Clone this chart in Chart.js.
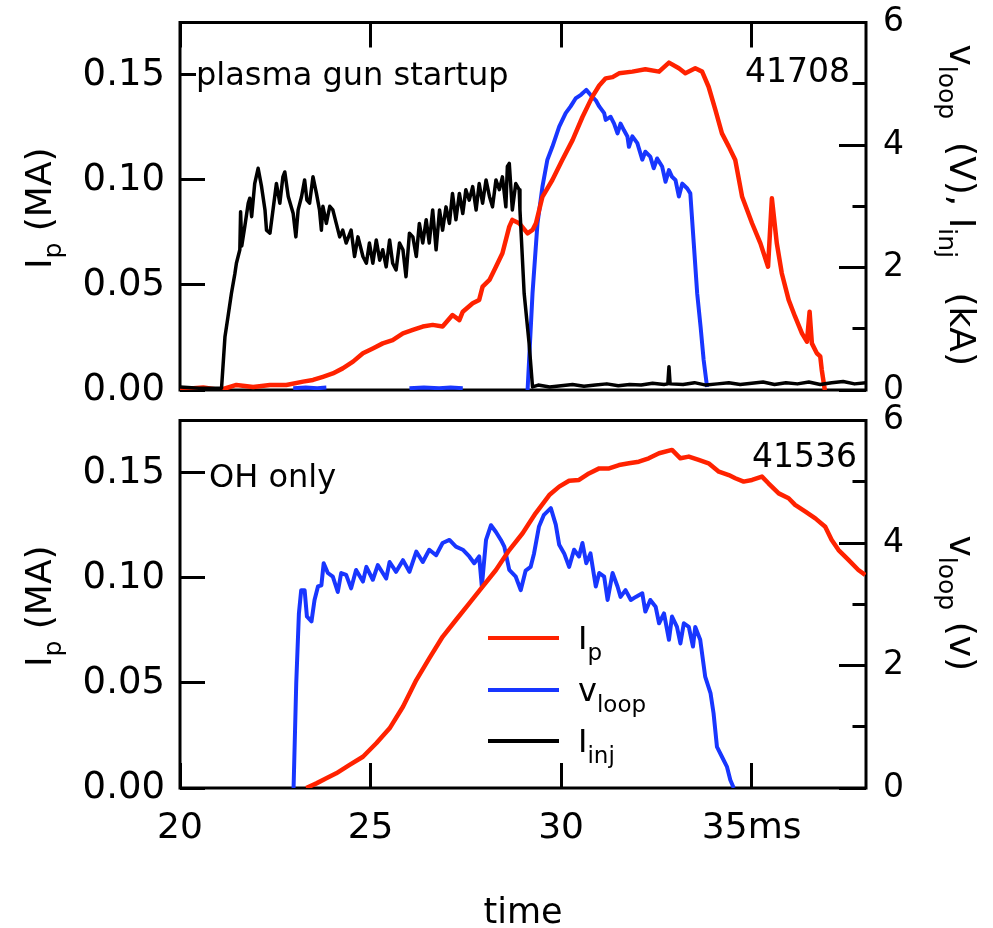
<!DOCTYPE html>
<html>
<head>
<meta charset="utf-8">
<script src="https://cdn.jsdelivr.net/npm/chart.js@4.4.1/dist/chart.umd.min.js"></script>
<style>
  html, body { margin: 0; padding: 0; background: #fff; overflow: hidden; }
  canvas { position: absolute; left: 0; }
  #c1 { top: 0; }
  #c2 { top: 400px; }
</style>
</head>
<body>
<canvas id="c1" width="993" height="410"></canvas>
<canvas id="c2" width="993" height="528"></canvas>
<script>
/* plasma gun startup vs OH only — Ip, vloop, Iinj against time (ms) */

const FONT = "'DejaVu Sans', sans-serif";
const RED = '#ff2200', BLUE = '#1836ff', BLACK = '#000000';

// axes
const X_MIN = 20, X_MAX = 38;
const X_TICKS = [20, 25, 30, 35];
const X_LABELS = ['20', '25', '30', '35ms'];
const IP_MAX = 0.175;
const IP_TICKS = [0, 0.05, 0.10, 0.15];
const V_MAX = 6;
const V_TICKS = [0, 2, 4, 6];
const V_MINOR = [1, 3, 5];

// top panel, shot 41708 : [t (ms), value]
const ipTop = [
  [20.0,0.0003],[20.61,0.0012],[21.05,0.0],[21.48,0.0024],[21.92,0.0014],[22.36,0.0024],[22.79,0.0024],
  [23.23,0.0040],[23.49,0.0048],[23.75,0.0063],[24.01,0.0079],[24.27,0.0103],[24.54,0.0135],[24.80,0.0175],
  [25.06,0.0198],[25.32,0.0222],[25.58,0.0238],[25.85,0.0270],[26.11,0.0286],[26.37,0.0302],[26.63,0.0310],
  [26.89,0.0302],[27.15,0.0357],[27.33,0.0333],[27.42,0.0373],[27.68,0.0413],[27.85,0.0429],[27.94,0.0492],
  [28.12,0.0524],[28.29,0.0587],[28.46,0.0651],[28.64,0.0778],[28.72,0.0810],[28.90,0.0794],[29.12,0.0746],
  [29.25,0.0762],[29.34,0.0794],[29.51,0.0920],[29.77,0.1000],[30.03,0.1095],[30.30,0.1190],[30.56,0.1300],
  [30.82,0.1397],[31.00,0.1450],[31.17,0.1484],[31.35,0.1490],[31.52,0.1508],[31.87,0.1516],[32.21,0.1527],
  [32.57,0.1516],[32.83,0.1559],[33.09,0.1532],[33.26,0.1508],[33.52,0.1532],[33.70,0.1516],[33.87,0.1444],
  [34.05,0.1333],[34.22,0.1222],[34.40,0.1159],[34.57,0.1095],[34.75,0.0920],[35.01,0.0794],[35.23,0.0698],
  [35.43,0.0587],[35.53,0.0913],[35.66,0.0698],[35.79,0.0556],[35.97,0.0429],[36.14,0.0349],[36.32,0.0270],
  [36.45,0.0230],[36.52,0.0373],[36.58,0.0222],[36.71,0.0175],[36.80,0.0160],[36.84,0.0095],[36.92,0.0]
];
const vloopTop = [
  [22.97,0.03],[23.3,0.04],[23.6,0.03],[23.84,0.04],[23.85,null],
  [26.02,0.03],[26.4,0.04],[26.8,0.03],[27.1,0.04],[27.42,0.03],[27.43,null],
  [29.12,0.0],[29.25,1.58],[29.38,2.72],[29.51,3.32],[29.64,3.76],[29.77,3.97],[29.95,4.30],[30.12,4.52],
  [30.25,4.63],[30.38,4.76],[30.52,4.82],[30.66,4.90],[30.77,4.82],[30.91,4.73],[31.00,4.63],[31.13,4.52],
  [31.17,4.41],[31.30,4.46],[31.39,4.35],[31.48,4.19],[31.56,4.35],[31.65,4.24],[31.74,4.14],[31.78,3.97],
  [31.87,4.14],[32.00,4.03],[32.13,3.76],[32.21,3.89],[32.34,3.81],[32.43,3.62],[32.52,3.78],[32.65,3.65],
  [32.74,3.40],[32.83,3.59],[32.91,3.48],[33.00,3.43],[33.09,3.16],[33.18,3.37],[33.31,3.29],[33.39,3.21],
  [33.48,2.40],[33.57,1.58],[33.66,1.03],[33.74,0.49],[33.83,0.05]
];
const injTop = [
  [20.0,0.05],[20.5,0.03],[21.0,0.03],[21.09,0.03],[21.18,0.87],[21.26,1.20],[21.35,1.58],[21.44,1.90],
  [21.48,2.07],[21.57,2.29],[21.59,2.91],[21.62,2.35],[21.70,2.67],[21.79,3.05],[21.83,3.13],[21.88,2.83],
  [21.96,3.37],[22.05,3.62],[22.14,3.32],[22.23,2.94],[22.27,2.61],[22.36,2.56],[22.44,2.94],[22.53,3.37],
  [22.62,3.05],[22.70,3.48],[22.75,3.56],[22.84,3.16],[22.97,2.88],[23.04,2.50],[23.10,2.94],[23.19,3.16],
  [23.27,3.43],[23.33,3.10],[23.40,3.05],[23.49,3.48],[23.58,3.21],[23.66,2.94],[23.71,2.61],[23.75,3.00],
  [23.84,2.72],[23.93,3.00],[24.01,2.94],[24.10,2.72],[24.19,2.50],[24.27,2.61],[24.36,2.40],[24.49,2.61],
  [24.58,2.18],[24.67,2.50],[24.80,2.18],[24.89,2.07],[24.97,2.40],[25.06,2.07],[25.15,2.45],[25.24,2.12],
  [25.32,2.29],[25.41,2.01],[25.50,2.45],[25.58,2.07],[25.67,1.96],[25.76,2.40],[25.85,2.29],[25.93,1.85],
  [26.02,2.56],[26.11,2.50],[26.20,2.18],[26.28,2.72],[26.37,2.40],[26.46,2.78],[26.54,2.40],[26.63,2.94],
  [26.72,2.29],[26.81,2.94],[26.89,2.61],[26.98,2.99],[27.07,2.72],[27.15,3.21],[27.24,2.78],[27.33,3.21],
  [27.42,2.88],[27.50,3.27],[27.59,3.10],[27.68,3.32],[27.77,2.94],[27.85,3.37],[27.94,3.05],[28.03,3.43],
  [28.12,3.16],[28.20,2.99],[28.29,3.43],[28.38,3.27],[28.46,3.48],[28.55,2.99],[28.59,3.65],[28.64,3.70],
  [28.72,2.94],[28.81,3.37],[28.90,3.27],[28.92,2.94],[29.03,1.58],[29.16,0.76],[29.25,0.05],[29.4,0.08],
  [29.7,0.05],[30.0,0.07],[30.3,0.09],[30.6,0.06],[30.9,0.08],[31.2,0.10],[31.5,0.07],[31.8,0.09],[32.1,0.08],
  [32.4,0.11],[32.7,0.09],[32.80,0.10],[32.83,0.38],[32.86,0.10],[33.2,0.09],[33.5,0.12],[33.8,0.08],
  [34.1,0.10],[34.4,0.12],[34.7,0.09],[35.0,0.11],[35.3,0.13],[35.6,0.09],[35.9,0.12],[36.2,0.10],[36.5,0.13],
  [36.8,0.09],[37.1,0.12],[37.4,0.14],[37.7,0.10],[38.0,0.12]
];

// bottom panel, shot 41536
const ipBot = [
  [23.31,0.0],[23.58,0.0022],[23.84,0.0046],[24.10,0.0070],[24.45,0.0110],[24.80,0.0149],[25.15,0.0213],
  [25.50,0.0284],[25.85,0.0387],[26.20,0.0514],[26.54,0.0617],[26.89,0.0720],[27.24,0.0800],[27.59,0.0879],
  [27.94,0.0959],[28.29,0.1038],[28.64,0.1133],[28.99,0.1213],[29.33,0.1308],[29.69,0.1395],[29.95,0.1435],
  [30.21,0.1463],[30.47,0.1467],[30.73,0.1498],[31.00,0.1522],[31.26,0.1522],[31.52,0.1538],[31.78,0.1546],
  [32.04,0.1554],[32.30,0.1570],[32.57,0.1594],[32.91,0.1610],[33.13,0.1570],[33.35,0.1578],[33.61,0.1562],
  [33.87,0.1546],[34.14,0.1506],[34.40,0.1490],[34.57,0.1475],[34.79,0.1459],[35.01,0.1467],[35.27,0.1483],
  [35.44,0.1451],[35.71,0.1403],[35.97,0.1380],[36.14,0.1348],[36.41,0.1316],[36.67,0.1284],[36.93,0.1244],
  [37.10,0.1181],[37.28,0.1133],[37.54,0.1086],[37.80,0.1038],[37.98,0.1014]
];
const vloopBot = [
  [22.98,0.0],[23.05,1.71],[23.12,2.85],[23.18,3.23],[23.27,3.23],[23.33,2.80],[23.45,2.72],[23.53,3.07],
  [23.62,3.29],[23.71,3.31],[23.77,3.67],[23.88,3.51],[24.01,3.45],[24.14,3.20],[24.23,3.51],[24.36,3.48],
  [24.49,3.26],[24.62,3.56],[24.80,3.37],[24.89,3.61],[25.06,3.40],[25.19,3.64],[25.41,3.42],[25.50,3.69],
  [25.67,3.53],[25.85,3.72],[26.02,3.53],[26.20,3.86],[26.37,3.69],[26.54,3.89],[26.72,3.80],[26.89,4.00],
  [27.07,4.05],[27.24,3.94],[27.42,3.89],[27.59,3.78],[27.72,3.67],[27.85,3.78],[27.92,3.29],[28.03,4.05],
  [28.16,4.29],[28.29,4.18],[28.42,4.05],[28.51,3.94],[28.64,3.56],[28.81,3.45],[28.94,3.23],[29.07,3.55],
  [29.20,3.61],[29.29,3.83],[29.42,4.27],[29.55,4.46],[29.73,4.57],[29.86,4.30],[29.95,3.97],[30.08,3.83],
  [30.21,3.61],[30.34,3.89],[30.47,3.78],[30.56,4.00],[30.66,3.67],[30.77,3.83],[30.91,3.29],[31.00,3.51],
  [31.13,3.45],[31.22,3.07],[31.35,3.51],[31.48,3.29],[31.56,3.12],[31.69,3.23],[31.83,3.07],[31.96,3.12],
  [32.13,3.18],[32.21,2.88],[32.34,3.07],[32.48,2.96],[32.57,2.69],[32.70,2.85],[32.83,2.42],[32.91,2.80],
  [33.04,2.63],[33.13,2.36],[33.22,2.69],[33.35,2.63],[33.46,2.31],[33.52,2.63],[33.65,2.42],[33.78,1.82],
  [33.92,1.55],[34.00,1.22],[34.09,0.67],[34.22,0.51],[34.35,0.35],[34.44,0.13],[34.53,0.0]
];

const LEGEND = [
  { name: 'I', sub: 'p', color: RED },
  { name: 'v', sub: 'loop', color: BLUE },
  { name: 'I', sub: 'inj', color: BLACK }
];

const pts = a => a.map(([x, y]) => ({ x, y }));
const fixTicks = vals => s => { s.ticks = vals.map(value => ({ value })); };
const noPad = s => { s.paddingTop = 0; s.paddingBottom = 0; s.paddingLeft = 0; s.paddingRight = 0; };

// text with subscripts: runs = [[text, isSub], ...]
function drawRich(ctx, runs, x, y, o) {
  ctx.save();
  ctx.translate(x, y);
  if (o.rot) ctx.rotate(o.rot);
  let w = 0;
  for (const [t, sub] of runs) { ctx.font = (sub ? o.small : o.big) + 'px ' + FONT; w += ctx.measureText(t).width; }
  let cx = o.align === 'center' ? -w / 2 : o.align === 'right' ? -w : 0;
  ctx.textAlign = 'left'; ctx.textBaseline = 'alphabetic'; ctx.fillStyle = o.color || '#000';
  for (const [t, sub] of runs) {
    ctx.font = (sub ? o.small : o.big) + 'px ' + FONT;
    ctx.fillText(t, cx, sub ? o.drop : 0);
    cx += ctx.measureText(t).width;
  }
  ctx.restore();
}

function plainText(ctx, txt, x, y, size, align, bg) {
  ctx.save();
  ctx.font = size + 'px ' + FONT;
  ctx.textAlign = align; ctx.textBaseline = 'alphabetic';
  if (bg) {
    const w = ctx.measureText(txt).width;
    ctx.fillStyle = '#fff';
    ctx.fillRect(align === 'right' ? x - w : x, y - size * 0.78, w, size * 1.0);
  }
  ctx.fillStyle = '#000';
  ctx.fillText(txt, x, y);
  ctx.restore();
}

function scalesFor(bottom) {
  return {
    x: {
      type: 'linear', position: bottom ? 'bottom' : 'top', min: X_MIN, max: X_MAX,
      afterBuildTicks: fixTicks(X_TICKS),
      afterFit: s => { s.height = bottom ? 140 : 22.5; noPad(s); },
      border: { display: false },
      grid: { drawOnChartArea: false, drawTicks: true, tickLength: -25, tickWidth: 3, tickColor: '#000' },
      ticks: { display: bottom, autoSkip: false, maxRotation: 0, padding: 44.4, color: '#000',
        font: { family: FONT, size: 36 }, callback: (v, i) => X_LABELS[i] }
    },
    ip: {
      type: 'linear', position: 'left', min: 0, max: IP_MAX,
      afterBuildTicks: fixTicks(IP_TICKS),
      afterFit: s => { s.width = 180; noPad(s); },
      border: { display: false },
      grid: { drawOnChartArea: false, tickLength: -25, tickWidth: 3, tickColor: '#000' },
      ticks: { padding: 40, color: '#000', font: { family: FONT, size: 37 }, callback: v => v.toFixed(2) }
    },
    vminor: {
      type: 'linear', position: 'right', weight: -1, min: 0, max: V_MAX,
      afterBuildTicks: fixTicks(V_MINOR),
      afterFit: s => { s.width = 0; noPad(s); },
      border: { display: false },
      grid: { drawOnChartArea: false, tickLength: -13.5, tickWidth: 3, tickColor: '#000' },
      ticks: { display: false }
    },
    v: {
      type: 'linear', position: 'right', weight: 0, min: 0, max: V_MAX,
      afterBuildTicks: fixTicks(V_TICKS),
      afterFit: s => { s.width = 127; noPad(s); },
      border: { display: false },
      grid: { drawOnChartArea: false, tickLength: -27, tickWidth: 3, tickColor: '#000' },
      ticks: { padding: 44, color: '#000', font: { family: FONT, size: 33 } }
    }
  };
}

const line = (data, axis, color, width, order) => ({
  data: pts(data), yAxisID: axis, borderColor: color, borderWidth: width,
  pointRadius: 0, tension: 0, borderJoinStyle: 'round', spanGaps: false, order
});

function panelPlugin(bottom) {
  return {
    id: 'panel',
    beforeDatasetsDraw(chart) {
      const a = chart.chartArea, ctx = chart.ctx;
      ctx.save();
      ctx.strokeStyle = '#000'; ctx.lineWidth = 3;
      ctx.strokeRect(a.left, a.top, a.right - a.left, a.bottom - a.top);
      ctx.restore();
    },
    afterDraw(chart) {
      const a = chart.chartArea, ctx = chart.ctx;
      const cy = (a.top + a.bottom) / 2;
      // axis titles
      drawRich(ctx, [['I', 0], ['p', 1], [' (MA)', 0]], 51, cy + 2,
        { big: 36, small: 25, drop: 10, align: 'center', rot: -Math.PI / 2 });
      if (!bottom) {
        drawRich(ctx, [['v', 0], ['loop', 1], ['  (V), ', 0], ['I', 0], ['inj', 1], ['   (kA)', 0]], 950, cy - 1,
          { big: 36, small: 25, drop: 11, align: 'center', rot: Math.PI / 2 });
        plainText(ctx, 'plasma gun startup', a.left + 16, a.top + 62.5, 32, 'left', true);
        plainText(ctx, '41708', a.right - 16, a.top + 59, 33, 'right', false);
      } else {
        drawRich(ctx, [['v', 0], ['loop', 1], [' (v)', 0]], 950, cy - 1,
          { big: 36, small: 25, drop: 11, align: 'center', rot: Math.PI / 2 });
        plainText(ctx, 'OH only', a.left + 29, a.top + 66.5, 32, 'left', true);
        plainText(ctx, '41536', a.right - 9, a.top + 46, 33, 'right', false);
        plainText(ctx, 'time', (a.left + a.right) / 2, 523, 35, 'center', false);
        // legend
        const rows = [217.5, 269.5, 320.5];
        LEGEND.forEach((it, i) => {
          const y = a.top + rows[i];
          ctx.save();
          ctx.strokeStyle = it.color; ctx.lineWidth = 4;
          ctx.beginPath(); ctx.moveTo(a.left + 308, y); ctx.lineTo(a.left + 379, y); ctx.stroke();
          ctx.restore();
          drawRich(ctx, [[it.name, 0], [it.sub, 1]], a.left + 398, y + 11,
            { big: 32, small: 23, drop: 11, align: 'left' });
        });
      }
    }
  };
}

const common = bottom => ({
  responsive: false, animation: false, devicePixelRatio: 1, events: [],
  layout: { padding: bottom ? { top: 20.5, bottom: 0, left: 0, right: 0 } : { top: 0, bottom: 20, left: 0, right: 0 } },
  plugins: { legend: { display: false }, tooltip: { enabled: false } },
  scales: scalesFor(bottom)
});

new Chart(document.getElementById('c1'), {
  type: 'line',
  data: { datasets: [
    line(injTop, 'v', BLACK, 3.5, 0),
    line(ipTop, 'ip', RED, 4.5, 1),
    line(vloopTop, 'v', BLUE, 4, 2)
  ] },
  options: common(false),
  plugins: [panelPlugin(false)]
});

new Chart(document.getElementById('c2'), {
  type: 'line',
  data: { datasets: [
    line(ipBot, 'ip', RED, 4.5, 0),
    line(vloopBot, 'v', BLUE, 4, 1)
  ] },
  options: common(true),
  plugins: [panelPlugin(true)]
});
</script>
</body>
</html>
